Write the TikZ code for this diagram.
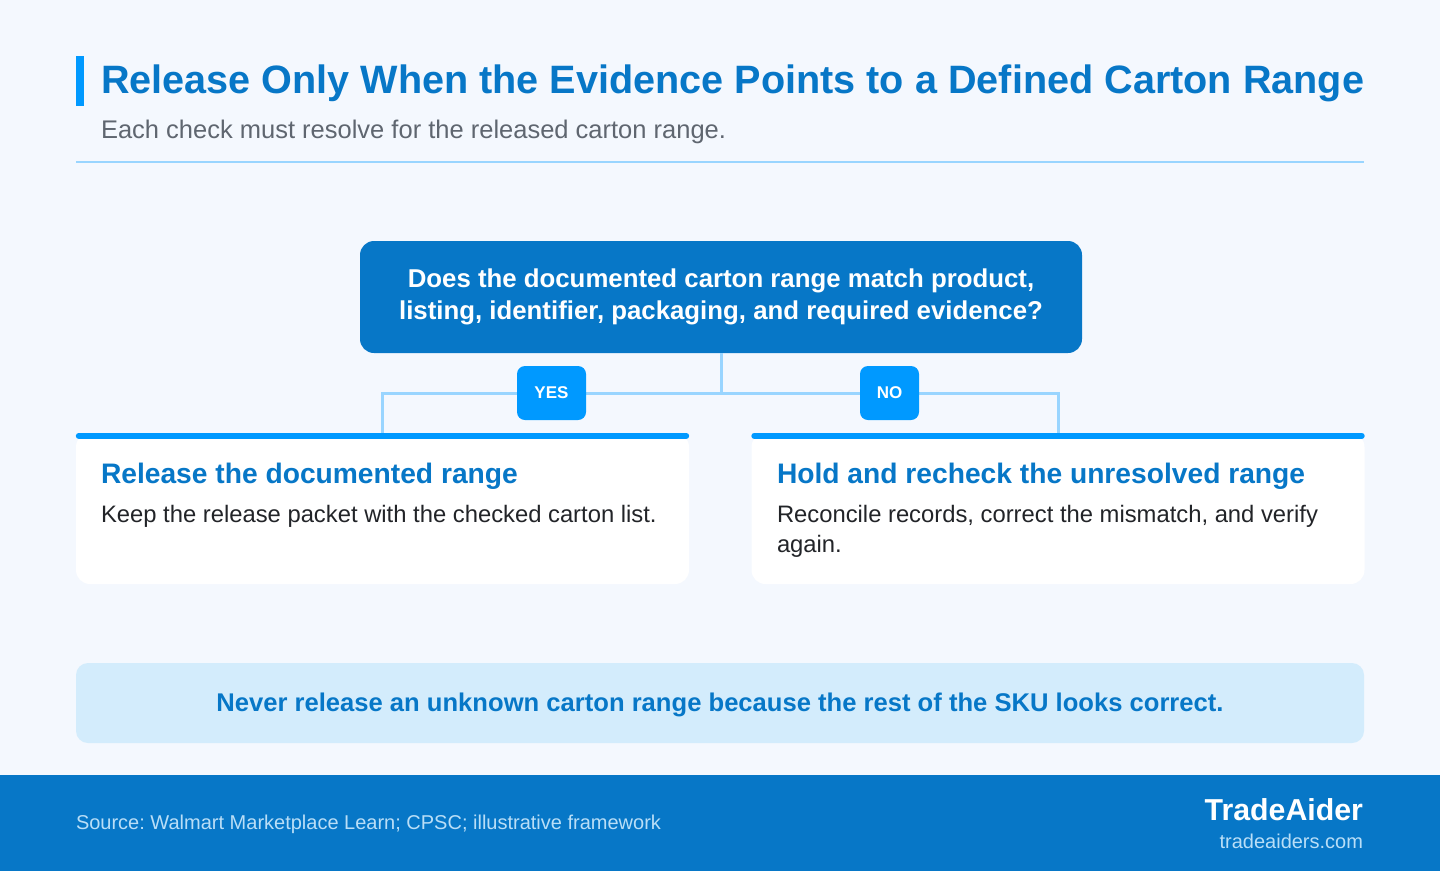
\documentclass[tikz,border=0pt]{standalone}
\usepackage{fontspec}
\setmainfont{Liberation Sans}
\frenchspacing
\definecolor{bgc}{HTML}{F4F8FE}
\definecolor{accent}{HTML}{0099FF}
\definecolor{deep}{HTML}{0777C7}
\definecolor{conn}{HTML}{99D5FF}
\definecolor{notefill}{HTML}{D3ECFC}
\definecolor{foottext}{HTML}{B9DEF7}
\definecolor{bodytext}{HTML}{222428}
\definecolor{subtext}{HTML}{5F6670}
\tikzset{
  txt/.style={inner sep=0pt, outer sep=0pt},
  connline/.style={draw=conn, line width=3pt},
  badge/.style={fill=accent, rounded corners=8pt, minimum height=54pt, inner sep=0pt, text=white, font=\fontsize{17}{19}\selectfont\bfseries},
  card/.style={fill=white, rounded corners=14pt, minimum width=613pt, minimum height=151pt, inner sep=0pt},
  cardbar/.style={draw=accent, line width=6pt, line cap=round},
  cardtitle/.style={txt, anchor=base west, text=deep, font=\fontsize{28.2}{32}\selectfont\bfseries},
  cardbody/.style={txt, anchor=base west, text=bodytext, font=\fontsize{23.8}{30}\selectfont},
}
\begin{document}
\begin{tikzpicture}[x=1pt,y=-1pt]
\useasboundingbox (0,0) rectangle (1440,871);
\fill[bgc] (0,0) rectangle (1440,871);
% header
\fill[accent] (76,56) rectangle (84,106);
\node[txt, anchor=base west, text=deep, font=\fontsize{39.6}{44}\selectfont\bfseries] (title) at (101,93) {Release Only When the Evidence Points to a Defined Carton Range};
\node[txt, anchor=base west, text=subtext, font=\fontsize{25.5}{28}\selectfont] (subtitle) at (101,138) {Each check must resolve for the released carton range.};
\draw[conn, line width=2pt] (76,162) -- (1364,162);
% question
\node[fill=deep, rounded corners=14pt, minimum width=722pt, minimum height=112pt, inner sep=0pt, text=white, align=center, font=\fontsize{25.8}{32}\selectfont\bfseries] (q) at (721,297) {Does the documented carton range match product,\\listing, identifier, packaging, and required evidence?};
% cards
\node[card] (lcard) at (382.5,508.5) {};
\node[card] (rcard) at (1058,508.5) {};
% connectors
\coordinate (j) at (721,393);
\draw[connline] (q.south) -- (j);
\draw[connline] (lcard.north) -- (lcard.north |- j) -- (rcard.north |- j) -- (rcard.north);
\draw[cardbar] ([xshift=3pt,yshift=-3pt]lcard.north west) -- ([xshift=-3pt,yshift=-3pt]lcard.north east);
\draw[cardbar] ([xshift=3pt,yshift=-3pt]rcard.north west) -- ([xshift=-3pt,yshift=-3pt]rcard.north east);
% badges
\node[badge, minimum width=69pt] (yes) at (551.5,393) {YES};
\node[badge, minimum width=59pt] (no) at (889.5,393) {NO};
% card texts
\node[cardtitle] (lt) at (101,483) {Release the documented range};
\node[cardbody] (lb) at (101,522) {Keep the release packet with the checked carton list.};
\node[cardtitle] (rt) at (777,483) {Hold and recheck the unresolved range};
\node[cardbody] (rb1) at (777,522) {Reconcile records, correct the mismatch, and verify};
\node[cardbody] (rb2) at (777,552) {again.};
% note
\node[fill=notefill, rounded corners=12pt, minimum width=1288pt, minimum height=80pt, inner sep=0pt] (note) at (720,703) {};
\node[txt, anchor=base, text=deep, font=\fontsize{25.6}{28}\selectfont\bfseries] (notetext) at (720,711) {Never release an unknown carton range because the rest of the SKU looks correct.};
% footer
\fill[deep] (0,775) rectangle (1440,871);
\node[txt, anchor=base west, text=foottext, font=\fontsize{20}{24}\selectfont] (src) at (76,829) {Source: Walmart Marketplace Learn; CPSC; illustrative framework};
\node[txt, anchor=base east, text=white, font=\fontsize{30.3}{34}\selectfont\bfseries] (brand) at (1363,820) {TradeAider};
\node[txt, anchor=base east, text=foottext, font=\fontsize{20}{24}\selectfont] (url) at (1363,848) {tradeaiders.com};
\end{tikzpicture}
\end{document}
